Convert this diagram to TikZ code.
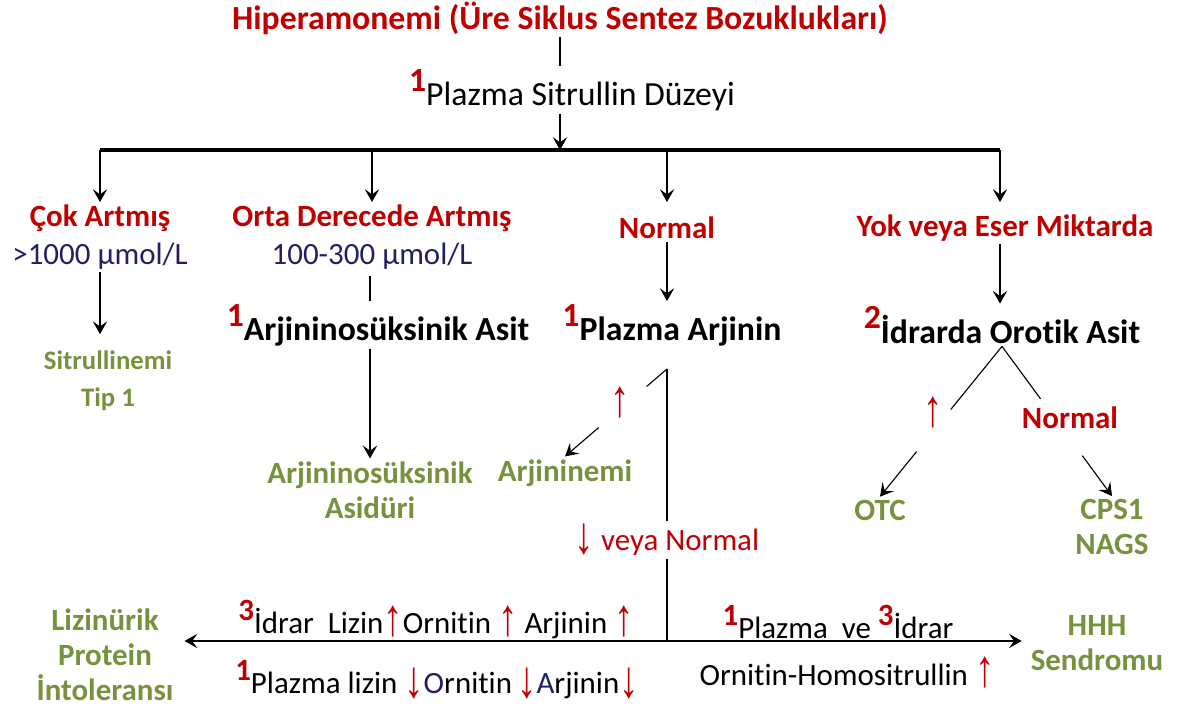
\documentclass[tikz,border=0pt]{standalone}
\usepackage{fontspec}
\setmainfont{Carlito}[Ligatures=NoCommon]
\newfontfamily\arrfont{Liberation Sans}
\usetikzlibrary{arrows.meta, calc, positioning}

\definecolor{dred}{RGB}{192,0,0}
\definecolor{olive}{RGB}{118,146,60}
\definecolor{navy}{RGB}{32,32,100}

\newcommand{\sn}[1]{\raisebox{0.42em}{\textcolor{dred}{\bfseries #1}}}
\newcommand{\up}{\textcolor{dred}{\raisebox{-0.05em}{\scalebox{1.25}[1.7]{\arrfont ↑}}}}
\newcommand{\dn}{\textcolor{dred}{\raisebox{-0.12em}{\scalebox{1.25}[1.7]{\arrfont ↓}}}}

\begin{document}
\begin{tikzpicture}[
  x=0.025cm, y=-0.025cm,
  every node/.style={inner sep=2pt},
  ttl/.style={text=dred, font=\fontsize{24}{28}\selectfont\bfseries},
  cat/.style={text=dred, font=\fontsize{22}{26}\selectfont\bfseries},
  val/.style={text=navy, font=\fontsize{22}{26}\selectfont},
  test/.style={font=\fontsize{24}{28}\selectfont\bfseries},
  dx/.style={text=olive, align=center, font=\fontsize{22}{25}\selectfont\bfseries},
  txt/.style={font=\fontsize{22}{26}\selectfont},
  ln/.style={line width=0.8pt},
  bar/.style={line width=2.2pt},
  arr/.style={-{Stealth[length=3.2mm, width=3.6mm, inset=1.3mm]}, line width=0.8pt},
]
\useasboundingbox (0,0) rectangle (1178,708);

%% top: title and first test
\node[ttl] (hyper) at (560,18) {Hiperamonemi (Üre Siklus Sentez Bozuklukları)};
\node[txt, font=\fontsize{24}{28}\selectfont] (sitr) at (572,90) {\sn{1}Plazma Sitrullin Düzeyi};
\draw[ln] (hyper.south) -- (hyper.south |- sitr.north);

%% fork bar
\coordinate (barL) at (100,150);
\coordinate (barR) at (1000,150);
\draw[arr] (hyper.south |- sitr.south) -- (hyper.south |- barL);
\draw[bar] (barL) -- (barR);

%% citrulline levels
\node[cat] (cok)   at (100,218)  {Çok Artmış};
\node[val] (cokv)  at (100,256)  {>1000 µmol/L};
\node[cat] (orta)  at (372,218)  {Orta Derecede Artmış};
\node[val] (ortav) at (372,256)  {100-300 µmol/L};
\node[cat] (norm)  at (667,228)  {Normal};
\node[cat] (yok)   at (1005,228) {Yok veya Eser Miktarda};
\foreach \n in {cok,orta,norm}
  \draw[arr] (\n.north |- barL) -- ++(0,52);
\draw[arr] (barR) -- ++(0,52);

%% column 1
\node[dx, font=\fontsize{19}{26}\selectfont\bfseries] (sit1) at (108,381) {Sitrullinemi\\Tip 1};
\draw[arr, shorten >=3.5mm] (cokv.south) -- (cokv.south |- sit1.north);

%% column 2
\node[test] (asa) at (378,325) {\sn{1}Arjininosüksinik Asit};
\node[dx] (asid) at (370,490) {Arjininosüksinik\\Asidüri};
\draw[ln, shorten <=1mm] (ortav.south -| asid.north) -- (asid.north |- asa.north);
\draw[arr] (asid.north |- asa.south) -- (asid.north);

%% column 3
\node[test] (parj) at (672,325) {\sn{1}Plazma Arjinin};
\draw[arr] (norm.south) -- (norm.south |- parj.north);
\coordinate (parjC) at (667,369);
\node[dx] (arjn) at (565,473) {Arjininemi};
\node[txt] (upa) at (620,403) {\up};
\draw[ln] (parjC) -- ($(parjC)!0.2!(arjn.north)$);
\draw[arr] ($(parjC)!0.67!(arjn.north)$) -- (arjn.north);
\node[txt, text=dred] (veya) at (667,540) {\dn\ veya Normal};
\draw[ln] (parjC) -- (veya.north);
\coordinate (junc) at (667,641);
\draw[ln] (veya.south) -- (junc);

%% column 4
\node[test] (orot) at (1002,325) {\sn{2}İdrarda Orotik Asit};
\draw[arr] (barR |- yok.south) -- (barR |- orot.north);
\node[dx] (otc) at (880,510) {OTC};
\node[dx] (cps) at (1112,527) {CPS1\\NAGS};
\node[txt] (upo) at (933,413) {\up};
\node[cat] (normo) at (1070,418) {Normal};
\draw[ln] (orot.south) -- ($(orot.south)!0.42!(otc.north)$);
\draw[arr] ($(orot.south)!0.7!(otc.north)$) -- (otc.north);
\draw[ln] (orot.south) -- ($(orot.south)!0.35!(cps.north)$);
\draw[arr] ($(orot.south)!0.73!(cps.north)$) -- (cps.north);

%% bottom row
\node[dx] (lpi) at (105,655) {Lizinürik\\Protein\\İntoleransı};
\node[dx] (hhh) at (1097,643) {HHH\\Sendromu};
\draw[arr, shorten >=2mm] (junc) -- (junc -| lpi.east);
\draw[arr, shorten >=1.5mm] (junc) -- (junc -| hhh.west);
\node[txt] (uidr) at (436,620) {\sn{3}İdrar\ \ Lizin\up Ornitin \up\ Arjinin \up};
\node[txt] (plz)  at (437,680) {\sn{1}Plazma lizin \dn{\color{navy}O}rnitin\,\dn{\color{navy}A}rjinin\dn};
\node[txt] (rp)   at (838,622) {\sn{1}Plazma\ \ ve \sn{3}İdrar};
\node[txt] (rh)   at (847,673) {Ornitin-Homositrullin \up};

\end{tikzpicture}
\end{document}
